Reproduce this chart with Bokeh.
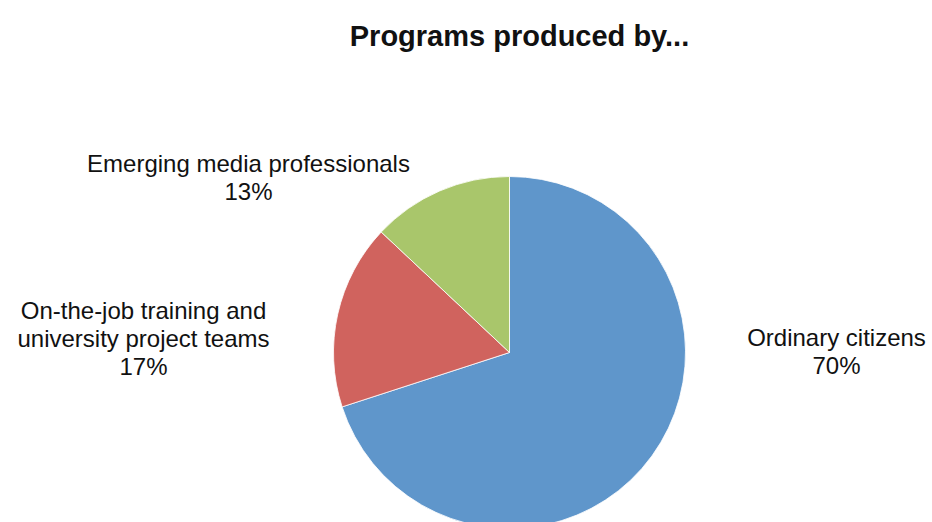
import math
from bokeh.plotting import figure
from bokeh.models import Range1d, ColumnDataSource
from bokeh.core.properties import value
from bokeh.embed import file_html
from bokeh.resources import INLINE

# ---- data ----
title_text = "Programs produced by..."
categories = ["Ordinary citizens",
              "On-the-job training and\nuniversity project teams",
              "Emerging media professionals"]
shares = [70, 17, 13]
colors = ["#5F96CB", "#D0635E", "#A9C66B"]

# ---- layout constants (image pixel coords) ----
W, H = 932, 522
OFF = 0
def X(ix): return ix - OFF
def Y(iy): return H - (iy - OFF)

pie_cx, pie_cy, pie_r = 509, 352, 176
# label anchor: (center x, first-line baseline y)
label_anchor = [(836, 337), (143, 310), (248, 163)]
line_step = 28

p = figure(width=W, height=H, x_range=Range1d(0, W), y_range=Range1d(0, H),
           output_backend="svg", toolbar_location=None, min_border=0,
           x_axis_type=None, y_axis_type=None)
p.grid.visible = False
p.outline_line_color = None
p.background_fill_color = "white"
p.border_fill_color = "white"

# wedges, clockwise from 12 o'clock
total = float(sum(shares))
starts, ends = [], []
cum = 0.0
for s in shares:
    starts.append(math.pi / 2 - 2 * math.pi * cum / total)
    cum += s
    ends.append(math.pi / 2 - 2 * math.pi * cum / total)

src = ColumnDataSource(dict(x=[X(pie_cx)] * len(shares), y=[Y(pie_cy)] * len(shares),
                            start=starts, end=ends, color=colors))
p.wedge(x="x", y="y", radius=pie_r, radius_units="screen", start_angle="start",
        end_angle="end", direction="clock", fill_color="color",
        line_color="white", line_width=0.8, source=src)

# labels
lx, ly, lt = [], [], []
for cat, s, (ax, ay) in zip(categories, shares, label_anchor):
    lines = cat.split("\n") + [f"{s}%"]
    for i, t in enumerate(lines):
        lx.append(X(ax))
        ly.append(Y(ay + i * line_step))
        lt.append(t)
p.text(x=lx, y=ly, text=lt, text_font=value("Liberation Sans"), text_font_size="24px",
       text_align="center", text_baseline="alphabetic", text_color="#111111")

# title
p.text(x=[X(519)], y=[Y(35)], text=[title_text], text_font=value("Liberation Sans"),
       text_font_size="29px", text_font_style="bold", text_align="center",
       text_baseline="alphabetic", text_color="#111111")

open("out.html", "w").write(file_html(p, INLINE))
